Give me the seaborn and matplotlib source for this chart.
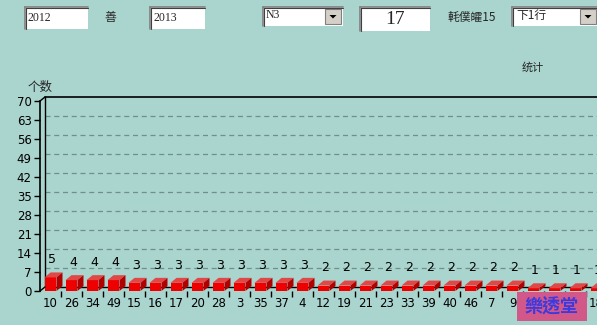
import matplotlib
matplotlib.use("Agg")
import matplotlib.pyplot as plt
import matplotlib.transforms as mtransforms
from matplotlib.patches import Rectangle, Polygon
import seaborn as sns
import pandas as pd

# ---- data ----
categories = ["10", "26", "34", "49", "15", "16", "17", "20", "28", "3", "35", "37", "4",
              "12", "19", "21", "23", "33", "39", "40", "46", "7", "9", "1", "5", "13", "18"]
counts = [5, 4, 4, 4, 3, 3, 3, 3, 3, 3, 3, 3, 3,
          2, 2, 2, 2, 2, 2, 2, 2, 2, 2, 1, 1, 1, 1]
y_ticks = [0, 7, 14, 21, 28, 35, 42, 49, 56, 63, 70]
y_label = "个数"
title = "统计"
ui_from, ui_to, ui_mode, ui_count, ui_label, ui_next = "2012", "2013", "N3", "17", "軞僕皬15", "下1行"
watermark = "樂透堂"

W, H = 597, 325
BG = "#AAD4CE"
CJK = ["Noto Sans CJK TC", "DejaVu Sans"]

sns.set_style("ticks")
plt.rcParams["font.family"] = ["DejaVu Sans", "Noto Sans CJK SC"]

fig = plt.figure(figsize=(W / 100, H / 100), dpi=100)
fig.patch.set_facecolor(BG)

def fx(px):
    return px / W

def fy(py):
    return 1 - py / H

# axes: x from 40px, 21px per category; y from 291px (0) up 190px (70)
n = len(categories)
ax = fig.add_axes([fx(40), fy(291), 21 * n / W, 190 / H])
ax.set_facecolor("none")

df = pd.DataFrame({"cat": categories, "count": counts})
sns.barplot(data=df, x="cat", y="count", order=categories, color="#EE0000",
            width=0.57, saturation=1, ax=ax, zorder=3, edgecolor="none")
ax.set_xlim(-0.5, n - 0.5)
ax.set_ylim(0, 70)

# 3D back wall offset
wall = mtransforms.offset_copy(ax.transData, fig=fig, x=5, y=4, units="dots")
for v in y_ticks[1:-1]:
    ax.plot([-0.5, n - 0.5], [v, v], transform=wall, color="#6E8F8C", lw=0.9,
            ls=(0, (4, 3)), zorder=1, clip_on=False)
ax.plot([-0.5, n - 0.5], [70, 70], transform=wall, color="black", lw=1.2, zorder=1, clip_on=False)
ax.plot([-0.5, n - 0.5], [0, 0], transform=wall, color="black", lw=1.0, zorder=1, clip_on=False)
ax.plot([-0.5, -0.5], [0, 70], transform=wall, color="black", lw=1.0, zorder=1, clip_on=False)
# corner diagonals
for v in (0, 70):
    p0 = ax.transData.transform((-0.5, v))
    p1 = wall.transform((-0.5, v))
    inv = fig.transFigure.inverted()
    a, b = inv.transform(p0), inv.transform(p1)
    fig.add_artist(plt.Line2D([a[0], b[0]], [a[1], b[1]], color="black", lw=1.0))

# 3D faces on bars
dx_px, dy_px = 6, 5
to_disp = ax.transData
inv_data = ax.transData.inverted()
for p in list(ax.patches):
    x0, w, h = p.get_x(), p.get_width(), p.get_height()
    bl = to_disp.transform((x0, 0))
    tr = to_disp.transform((x0 + w, h))
    tl = (bl[0], tr[1])
    br = (tr[0], bl[1])
    top = [tl, (tr[0], tr[1]), (tr[0] + dx_px, tr[1] + dy_px), (tl[0] + dx_px, tl[1] + dy_px)]
    side = [br, (tr[0], tr[1]), (tr[0] + dx_px, tr[1] + dy_px), (br[0] + dx_px, br[1] + dy_px)]
    top_d = [inv_data.transform(q) for q in top]
    side_d = [inv_data.transform(q) for q in side]
    ax.add_patch(Polygon(top_d, closed=True, facecolor="#E04848", edgecolor="none", zorder=4))
    ax.add_patch(Polygon(side_d, closed=True, facecolor="#B00000", edgecolor="none", zorder=4))
    ax.annotate(f"{int(h)}", (x0 + w / 2, h), xytext=(1, 8), textcoords="offset points",
                ha="center", va="bottom", fontsize=9, color="black", zorder=5)

# axes styling
for s in ("top", "right", "bottom"):
    ax.spines[s].set_visible(False)
ax.spines["left"].set_linewidth(1.2)
ax.spines["left"].set_color("black")
ax.set_yticks(y_ticks)
ax.set_yticklabels([str(v) for v in y_ticks])
ax.tick_params(axis="y", length=4, width=1, pad=2, labelsize=8.5, colors="black")
ax.set_xticks(range(n))
ax.set_xticklabels(categories)
ax.tick_params(axis="x", which="major", length=0, pad=4, labelsize=8.5, colors="black")
ax.set_xticks([i + 0.5 for i in range(n)], minor=True)
ax.tick_params(axis="x", which="minor", length=4, width=1, colors="black")
ax.set_xlabel("")
ax.set_ylabel("")

# texts
fig.text(fx(28), fy(87), y_label, fontsize=9, family=CJK, ha="left", va="center")
fig.text(fx(533), fy(67), title, fontsize=8, family=CJK, ha="center", va="center")

# UI widgets on top
def box(x0, y0, x1, y1):
    fig.add_artist(Rectangle((fx(x0), fy(y1)), fx(x1 - x0), (y1 - y0) / H,
                             transform=fig.transFigure, facecolor="white", edgecolor="none"))
    fig.add_artist(plt.Line2D([fx(x0), fx(x1)], [fy(y0), fy(y0)], color="#808080", lw=1.2))
    fig.add_artist(plt.Line2D([fx(x0), fx(x0)], [fy(y0), fy(y1)], color="#808080", lw=1.2))
    fig.add_artist(plt.Line2D([fx(x0) + 1 / W, fx(x1)], [fy(y0) - 1 / H, fy(y0) - 1 / H], color="#404040", lw=0.8))
    fig.add_artist(plt.Line2D([fx(x0) + 1 / W, fx(x0) + 1 / W], [fy(y0) - 1 / H, fy(y1)], color="#404040", lw=0.8))

def button(x0, y0, x1, y1):
    fig.add_artist(Rectangle((fx(x0), fy(y1)), fx(x1 - x0), (y1 - y0) / H,
                             transform=fig.transFigure, facecolor="#D4D0C8", edgecolor="#808080", lw=0.8))
    cx, cy = (x0 + x1) / 2, (y0 + y1) / 2
    fig.add_artist(Polygon([(fx(cx - 3.5), fy(cy - 1.5)), (fx(cx + 3.5), fy(cy - 1.5)), (fx(cx), fy(cy + 2))],
                           closed=True, transform=fig.transFigure, facecolor="black", edgecolor="none"))

box(25, 7, 88, 29)
fig.text(fx(28), fy(18), ui_from, fontsize=8.5, family="Liberation Serif", va="center")
fig.text(fx(110), fy(17), "善", fontsize=8.5, family=CJK, ha="center", va="center")
box(150, 7, 205, 29)
fig.text(fx(153), fy(18), ui_to, fontsize=8.5, family="Liberation Serif", va="center")
box(263, 7, 343, 26)
fig.text(fx(266), fy(15), ui_mode, fontsize=8.5, family="Liberation Serif", va="center")
button(325, 9, 341, 24)
box(360, 7, 430, 31)
fig.text(fx(395), fy(19), ui_count, fontsize=14, family="Liberation Serif", ha="center", va="center")
fig.text(fx(447), fy(17), ui_label, fontsize=8.5, family=CJK, ha="left", va="center")
box(512, 7, 597, 26)
fig.text(fx(516), fy(15), ui_next, fontsize=8.5, family=CJK, ha="left", va="center")
button(580, 9, 596, 24)

# watermark
fig.add_artist(Rectangle((fx(517), fy(321)), fx(70), 29 / H, transform=fig.transFigure,
                         facecolor="#D2588A", edgecolor="none", zorder=10))
fig.text(fx(552), fy(306), watermark, fontsize=13, family=CJK, color="#3A3AE0",
         ha="center", va="center", zorder=11, fontweight="bold")

fig.savefig("out.png", dpi=100, facecolor=BG)
